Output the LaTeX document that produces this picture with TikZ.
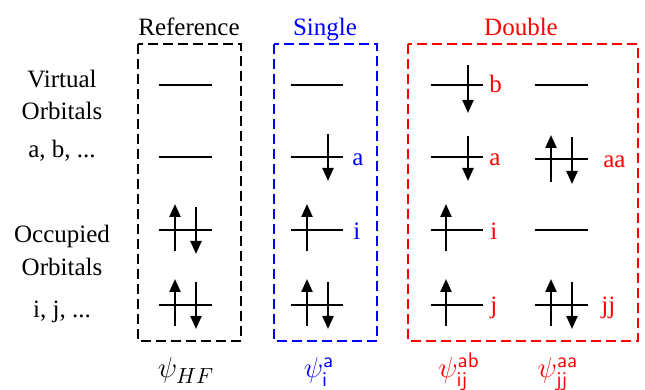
\documentclass[tikz,border=0pt]{standalone}
\usepackage{amsmath, amssymb}
\usepackage{fontspec}
\setmainfont{Liberation Serif}
\usepackage{xcolor}
\usepackage{tikz}
\usetikzlibrary{arrows.meta, positioning}

\definecolor{sglblue}{RGB}{0,0,255}
\definecolor{dblred}{RGB}{255,0,0}

\begin{document}
\begin{tikzpicture}[x=0.5pt, y=-0.5pt,
    font=\fontsize{12.5}{15}\selectfont,
    orb/.style={line width=1pt},
    spin/.style={-{Triangle[length=6.5pt, width=5.5pt]}, line width=1.2pt},
    exbox/.style={dashed, dash pattern=on 5pt off 2.5pt, line width=1.3pt},
    lbl/.style={anchor=base west, inner sep=0pt},
    wf/.style={anchor=base, inner sep=0pt, font=\fontsize{15}{18}\selectfont}]
    \useasboundingbox (0,0) rectangle (645,390);

    % کادرها
    \draw[exbox, black] (138,44) rectangle (241,341);
    \draw[exbox, sglblue] (274,44) rectangle (377,341);
    \draw[exbox, dblred] (408,44) rectangle (638,341);

    % عنوان‌ها
    \node[anchor=base] (tref) at (189,36) {Reference};
    \node[anchor=base, text=sglblue] (tsgl) at (325,36) {Single};
    \node[anchor=base, text=dblred] (tdbl) at (521,36) {Double};

    % برچسب‌های سمت چپ
    \node[anchor=base] (virt) at (62,88) {Virtual};
    \node[anchor=base] (vorb) at (62,120) {Orbitals};
    \node[anchor=base] (vidx) at (62,158) {a, b, ...};
    \node[anchor=base] (occ) at (62,243) {Occupied};
    \node[anchor=base] (oorb) at (62,276) {Orbitals};
    \node[anchor=base] (oidx) at (62,318) {i, j, ...};

    % ترازها: مرجع
    \draw[orb] (159,85) -- (212,85);
    \draw[orb] (159,157) -- (212,157);
    \draw[orb] (159,230) -- (212,230);
    \draw[orb] (159,305) -- (212,305);
    \draw[spin] (175,251) -- (175,204);
    \draw[spin] (196,207) -- (196,254);
    \draw[spin] (175,326) -- (175,279);
    \draw[spin] (196,282) -- (196,329);

    % ترازها: تک‌برانگیخته
    \draw[orb] (291,85) -- (343,85);
    \draw[orb] (291,157) -- (343,157);
    \draw[orb] (291,230) -- (343,230);
    \draw[orb] (291,305) -- (343,305);
    \draw[spin] (328,134) -- (328,181);
    \draw[spin] (307,251) -- (307,204);
    \draw[spin] (307,326) -- (307,279);
    \draw[spin] (328,282) -- (328,329);
    \node[lbl, text=sglblue] (sa) at (352,166) {a};
    \node[lbl, text=sglblue] (si) at (353,240) {i};

    % ترازها: دوبرانگیخته
    \draw[orb] (431,85) -- (483,85);
    \draw[orb] (431,157) -- (483,157);
    \draw[orb] (431,230) -- (483,230);
    \draw[orb] (431,305) -- (483,305);
    \draw[spin] (468,65) -- (468,113);
    \draw[spin] (468,136) -- (468,181);
    \draw[spin] (446,251) -- (446,204);
    \draw[spin] (446,326) -- (446,279);
    \node[lbl, text=dblred] (db) at (489,93) {b};
    \node[lbl, text=dblred] (da) at (489,166) {a};
    \node[lbl, text=dblred] (di) at (490,240) {i};
    \node[lbl, text=dblred] (dj) at (490,314) {j};

    \draw[orb] (535,85) -- (588,85);
    \draw[orb] (535,159) -- (588,159);
    \draw[orb] (535,230) -- (588,230);
    \draw[orb] (535,305) -- (588,305);
    \draw[spin] (551,182) -- (551,135);
    \draw[spin] (572,137) -- (572,184);
    \draw[spin] (551,326) -- (551,279);
    \draw[spin] (572,282) -- (572,329);
    \node[lbl, text=dblred] (daa) at (603,168) {aa};
    \node[lbl, text=dblred] (djj) at (601,314) {jj};

    % توابع موج
    \node[wf] (psihf) at (186,378) {$\psi_{HF}$};
    \node[wf, text=sglblue] (psis) at (319,378) {$\psi_{\mathsf{i}}^{\mathsf{a}}$};
    \node[wf, text=dblred] (psiab) at (459,378) {$\psi_{\mathsf{ij}}^{\mathsf{ab}}$};
    \node[wf, text=dblred] (psiaa) at (558,378) {$\psi_{\mathsf{jj}}^{\mathsf{aa}}$};
\end{tikzpicture}
\end{document}
